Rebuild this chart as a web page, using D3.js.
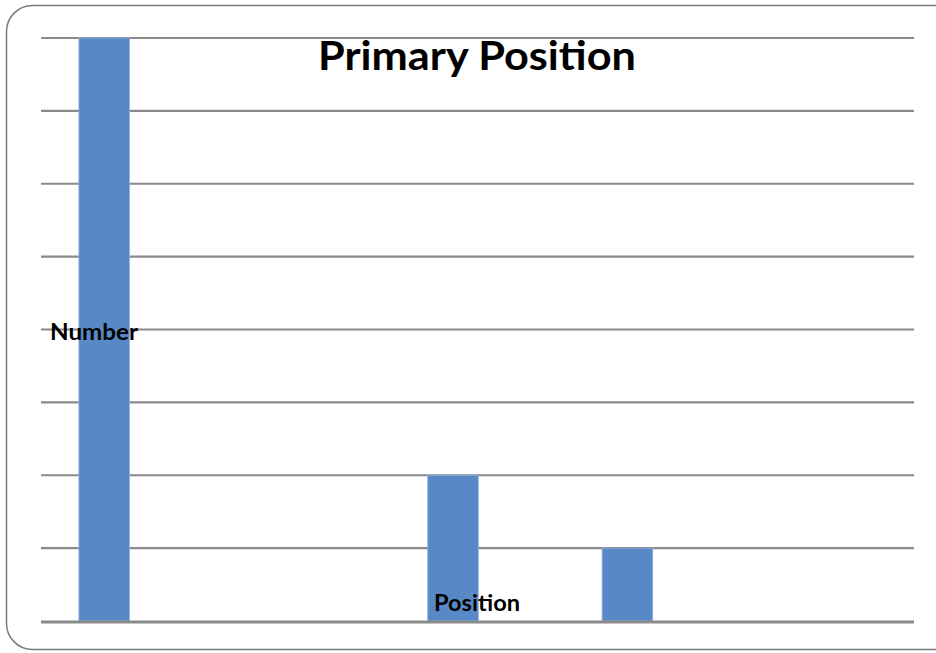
<!DOCTYPE html>
<html>
<head>
<meta charset="utf-8">
<script src="https://cdn.jsdelivr.net/npm/d3@7"></script>
<style>
  html, body { margin: 0; padding: 0; background: #ffffff; }
  svg { display: block; }
</style>
</head>
<body>
<script>
// Primary position counts
const categories = ["Forward", "Midfielder", "Defender", "Goalkeeper", "Utility"];
const counts = [8, 0, 2, 1, 0];
const yTicks = [0, 1, 2, 3, 4, 5, 6, 7, 8];

const W = 936, H = 653;
const svg = d3.select("body").append("svg").attr("width", W).attr("height", H);

// rounded chart frame
svg.append("rect")
  .attr("x", 6.5).attr("y", 5.5)
  .attr("width", 960).attr("height", 644)
  .attr("rx", 26).attr("ry", 26)
  .attr("fill", "#fff")
  .attr("stroke", "#7a7a7a")
  .attr("stroke-width", 1.5);

const plot = { left: 41, right: 914, top: 38, bottom: 621 };

const y = d3.scaleLinear().domain([0, 8]).range([plot.bottom, plot.top]);
const x = d3.scaleBand().domain(categories).range([17, 889]).paddingInner(0.71).paddingOuter(0.355);

// horizontal gridlines
svg.append("g").selectAll("line")
  .data(yTicks.filter(d => d > 0))
  .join("line")
  .attr("x1", plot.left).attr("x2", plot.right)
  .attr("y1", d => y(d)).attr("y2", d => y(d))
  .attr("stroke", "#8a8a8a")
  .attr("stroke-width", 2.2);

// bars
svg.append("g").selectAll("rect")
  .data(categories.map((c, i) => ({ c, v: counts[i] })).filter(d => d.v > 0))
  .join("rect")
  .attr("x", d => x(d.c))
  .attr("width", x.bandwidth())
  .attr("y", d => y(d.v))
  .attr("height", d => y(0) - y(d.v))
  .attr("fill", "#5889c6")
  .attr("stroke", "#8fb0dc")
  .attr("stroke-width", 0.8);

// baseline axis
svg.append("line")
  .attr("x1", plot.left).attr("x2", plot.right)
  .attr("y1", y(0) + 1).attr("y2", y(0) + 1)
  .attr("stroke", "#8a8a8a")
  .attr("stroke-width", 3);

const font = "Lato, 'Open Sans', sans-serif";

// title
svg.append("text")
  .attr("x", 318).attr("y", 70)
  .attr("font-family", font)
  .attr("font-weight", "bold")
  .attr("font-size", 40)
  .attr("textLength", 318)
  .attr("lengthAdjust", "spacingAndGlyphs")
  .attr("fill", "#000")
  .text("Primary Position");

// axis titles
svg.append("text")
  .attr("x", 50).attr("y", 340)
  .attr("font-family", font)
  .attr("font-weight", "bold")
  .attr("font-size", 22)
  .attr("textLength", 88)
  .attr("lengthAdjust", "spacingAndGlyphs")
  .attr("fill", "#000")
  .text("Number");

svg.append("text")
  .attr("x", 434).attr("y", 611)
  .attr("font-family", font)
  .attr("font-weight", "bold")
  .attr("font-size", 22)
  .attr("textLength", 86)
  .attr("lengthAdjust", "spacingAndGlyphs")
  .attr("fill", "#000")
  .text("Position");
</script>
</body>
</html>
